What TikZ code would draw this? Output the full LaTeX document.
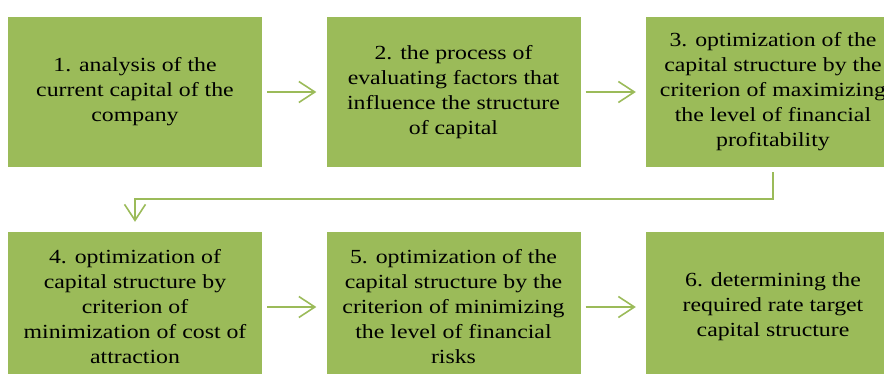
\documentclass[tikz,border=0pt]{standalone}
\usepackage{fontspec}
\setmainfont{Liberation Serif}[FakeStretch=1.19]
\usetikzlibrary{arrows.meta}
\definecolor{olive}{HTML}{9BBB59}
\tikzset{
	stage/.style={rectangle, fill=olive, inner sep=0pt, minimum width=254pt, minimum height=150pt, align=center, font=\fontsize{20pt}{25pt}\selectfont},
	flow/.style={draw=olive, line width=1.6pt, -{Straight Barb[length=16pt, width=21pt, line width=1.6pt]}}
}

\begin{document}
\begin{tikzpicture}[x=1pt, y=-1pt]
		%%%%% START %%%%%
		
		\clip (0, 0) rectangle (884, 374);
		
		\node[stage] (st1) at (135, 92) {1. analysis of the\\current capital of the\\company};
		\node[stage] (st2) at (453.5, 92) {2. the process of\\evaluating factors that\\influence the structure\\of capital};
		\node[stage] (st3) at (773, 92) {3. optimization of the\\capital structure by the\\criterion of maximizing\\the level of financial\\profitability};
		
		\node[stage] (st4) at (135, 307) {4. optimization of\\capital structure by\\criterion of\\minimization of cost of\\attraction};
		\node[stage] (st5) at (453.5, 307) {5. optimization of the\\capital structure by the\\criterion of minimizing\\the level of financial\\risks};
		\node[stage] (st6) at (773, 307) {6. determining the\\required rate target\\capital structure};
		
		\draw[flow] ([xshift=5pt]st1.east) -- ([xshift=-10pt]st2.west);
		\draw[flow] ([xshift=5pt]st2.east) -- ([xshift=-10pt]st3.west);
		
		\draw[flow] ([yshift=-5pt]st3.south) -- ++(0, 27) -| ([yshift=10pt]st4.north);
		
		\draw[flow] ([xshift=5pt]st4.east) -- ([xshift=-10pt]st5.west);
		\draw[flow] ([xshift=5pt]st5.east) -- ([xshift=-10pt]st6.west);
		
		%%%%% END %%%%%
	\end{tikzpicture}
\end{document}
